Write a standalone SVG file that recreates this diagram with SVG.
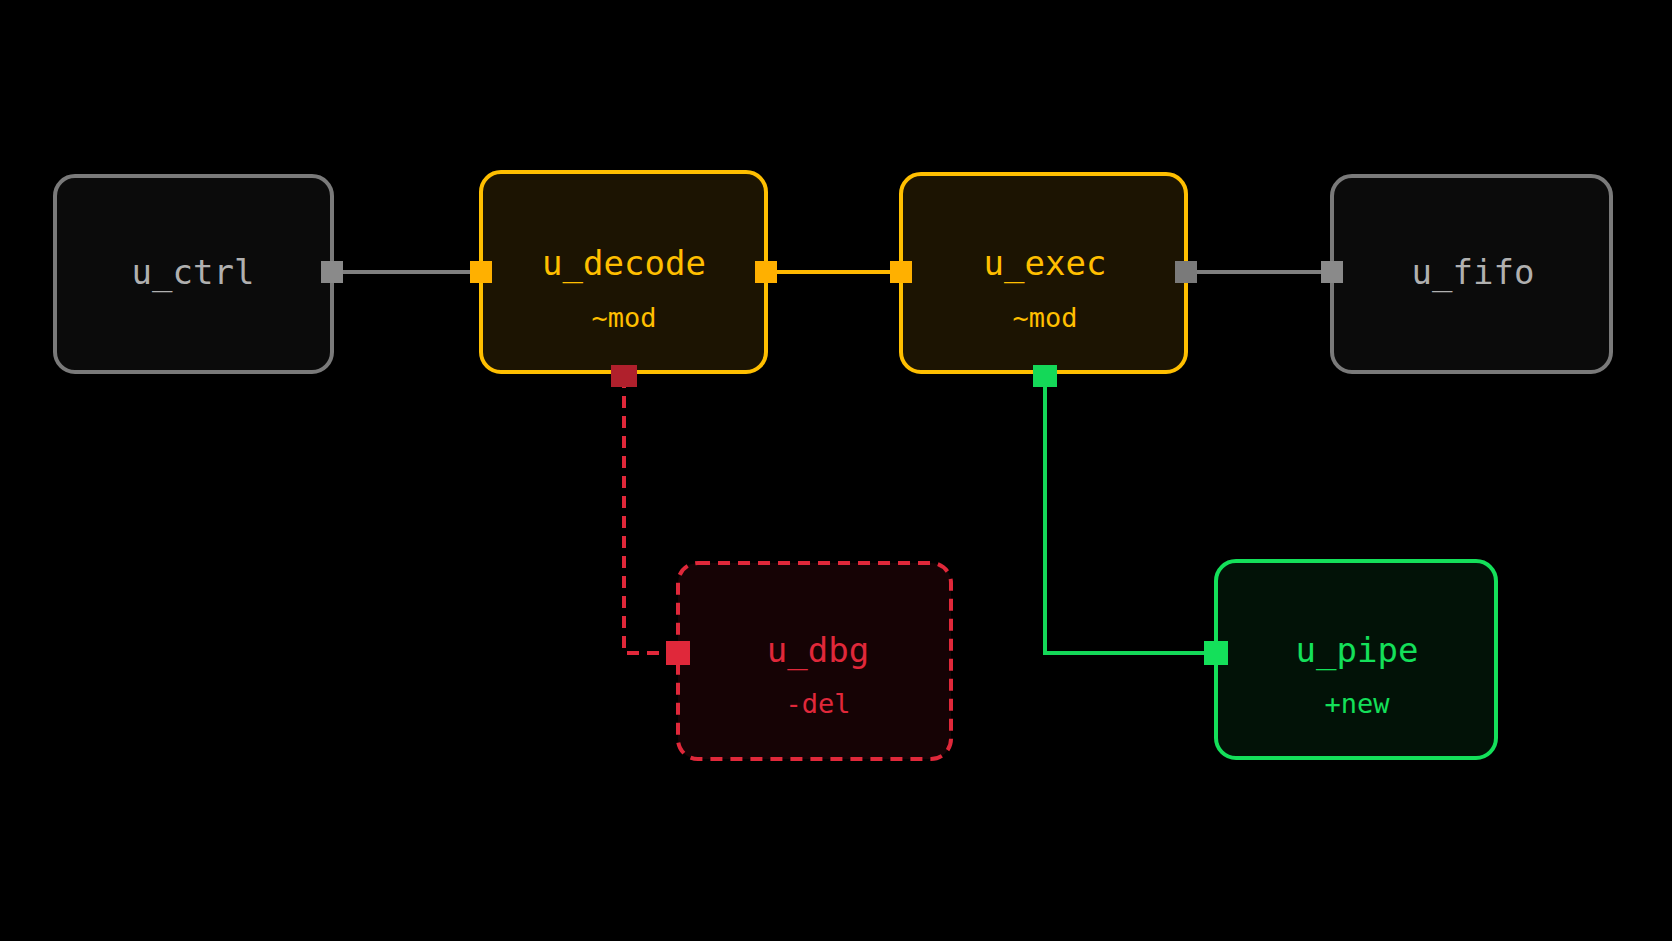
<svg xmlns="http://www.w3.org/2000/svg" width="1672" height="941" viewBox="0 0 1672 941">
<style>
.t{font-family:"DejaVu Sans Mono",monospace;font-size:34px;text-anchor:middle;dominant-baseline:central}
.s{font-family:"DejaVu Sans Mono",monospace;font-size:27px;text-anchor:middle;dominant-baseline:central}
.g rect.b{fill:#0b0b0b;stroke:#7a7a7a}
.y rect.b{fill:#1c1402;stroke:#ffbf00}
.r rect.b{fill:#160305;stroke:#e0283a;stroke-dasharray:12 8}
.n rect.b{fill:#021207;stroke:#14e05a}
rect.b{stroke-width:4}
</style>
<rect width="1672" height="941" fill="#000"/>
<g id="connectors" fill="none" stroke-width="4">
<line x1="332" y1="272" x2="481" y2="272" stroke="#808080"/>
<line x1="766" y1="272" x2="901" y2="272" stroke="#ffb800"/>
<line x1="1186" y1="272" x2="1332" y2="272" stroke="#808080"/>
<path d="M624 376 V653 H678" stroke="#e0283a" stroke-dasharray="12 8"/>
<path d="M1045 376 V653 H1216" stroke="#14d858"/>
</g>
<g id="u_ctrl" class="g"><rect class="b" x="55" y="176" width="277" height="196" rx="20"/><text class="t" x="193" y="272" fill="#b0b0b0">u_ctrl</text><rect x="321" y="261" width="22" height="22" fill="#8a8a8a"/></g>
<g id="u_decode" class="y"><rect class="b" x="481" y="172" width="285" height="200" rx="20"/><text class="t" x="624" y="263" fill="#ffbf00">u_decode</text><text class="s" x="624" y="317" fill="#ffbf00">~mod</text><rect x="470" y="261" width="22" height="22" fill="#ffb000"/><rect x="755" y="261" width="22" height="22" fill="#ffb000"/><rect x="611" y="365" width="26" height="22" fill="#b0202c"/></g>
<g id="u_exec" class="y"><rect class="b" x="901" y="174" width="285" height="198" rx="20"/><text class="t" x="1045" y="263" fill="#ffbf00">u_exec</text><text class="s" x="1045" y="317" fill="#ffbf00">~mod</text><rect x="890" y="261" width="22" height="22" fill="#ffb000"/><rect x="1175" y="261" width="22" height="22" fill="#7a7a7a"/><rect x="1033" y="365" width="24" height="22" fill="#14d858"/></g>
<g id="u_fifo" class="g"><rect class="b" x="1332" y="176" width="279" height="196" rx="20"/><text class="t" x="1473" y="272" fill="#b0b0b0">u_fifo</text><rect x="1321" y="261" width="22" height="22" fill="#8a8a8a"/></g>
<g id="u_dbg" class="r"><rect class="b" x="678" y="563" width="273" height="196" rx="20"/><text class="t" x="818" y="650" fill="#e0283a">u_dbg</text><text class="s" x="818" y="703" fill="#e0283a">-del</text><rect x="666" y="641" width="24" height="24" fill="#e0283a"/></g>
<g id="u_pipe" class="n"><rect class="b" x="1216" y="561" width="280" height="197" rx="20"/><text class="t" x="1357" y="650" fill="#14e05a">u_pipe</text><text class="s" x="1357" y="703" fill="#14e05a">+new</text><rect x="1204" y="641" width="24" height="24" fill="#14e05a"/></g>
</svg>
